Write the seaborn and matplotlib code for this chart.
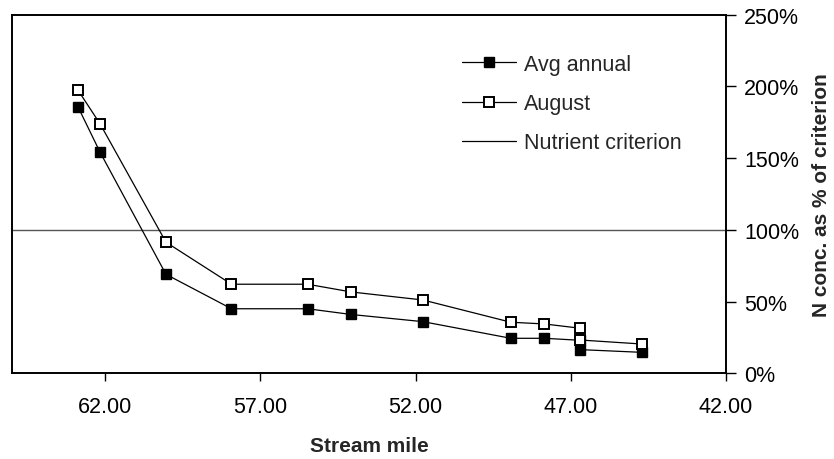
import matplotlib
matplotlib.use("Agg")
import matplotlib.pyplot as plt
from matplotlib.ticker import PercentFormatter, FormatStrFormatter
from matplotlib.lines import Line2D
import seaborn as sns
import pandas as pd

# Stream mile of each sampling site (two sites share mile 46.69)
stream_mile = [62.88, 62.16, 60.04, 57.93, 55.48, 54.07, 51.76, 48.93, 47.85, 46.69, 46.69, 44.70]
# Nitrogen concentration as a fraction of the nutrient criterion
avg_annual = [1.86, 1.54, 0.69, 0.45, 0.45, 0.41, 0.36, 0.244, 0.244, 0.23, 0.165, 0.146]
august = [1.976, 1.738, 0.914, 0.621, 0.621, 0.567, 0.511, 0.356, 0.344, 0.314, 0.232, 0.204]
criterion = 1.0

x_ticks = [62, 57, 52, 47, 42]

sns.set_theme(style="white")
plt.rcParams["font.family"] = ["Liberation Sans", "DejaVu Sans"]

df = pd.DataFrame({"mile": stream_mile, "avg": avg_annual, "aug": august})

fig = plt.figure(figsize=(8.34, 4.6), dpi=100)
ax = fig.add_axes([12 / 834, (460 - 374.3) / 460, 714 / 834, 358.6 / 460])

ax.axhline(criterion, color="#555555", lw=1.0, zorder=1)

sns.lineplot(data=df, x="mile", y="avg", ax=ax, estimator=None, sort=False,
             color="black", lw=0.9, marker="s", markersize=7.5,
             markerfacecolor="black", markeredgecolor="black", markeredgewidth=1.0,
             zorder=2)
sns.lineplot(data=df, x="mile", y="aug", ax=ax, estimator=None, sort=False,
             color="black", lw=0.9, marker="s", markersize=7.5,
             markerfacecolor="white", markeredgecolor="black", markeredgewidth=1.4,
             zorder=3)

ax.set_xlim(65, 42)
ax.set_ylim(0, 2.5)
ax.set_xticks(x_ticks)
ax.xaxis.set_major_formatter(FormatStrFormatter("%.2f"))
ax.set_yticks([0, 0.5, 1.0, 1.5, 2.0, 2.5])
ax.yaxis.set_major_formatter(PercentFormatter(1.0, decimals=0))
ax.yaxis.tick_right()
ax.yaxis.set_label_position("right")

for side in ["left", "right", "top", "bottom"]:
    ax.spines[side].set_visible(True)
    ax.spines[side].set_color("black")
    ax.spines[side].set_linewidth(1.4)

ax.tick_params(axis="x", direction="out", length=6, width=1.0, color="black",
               pad=10, labelsize=15.5, labelcolor="black", bottom=True)
ax.tick_params(axis="y", direction="out", length=7, width=1.0, color="black",
               pad=6, labelsize=15.5, labelcolor="black", right=True, left=False)

ax.set_xlabel("Stream mile", fontsize=15, fontweight="bold", labelpad=14)
ax.set_ylabel("N conc. as % of criterion", fontsize=15, fontweight="bold",
              labelpad=9, rotation=90)

handles = [
    Line2D([], [], color="black", lw=0.9, marker="s", markersize=7.5,
           markerfacecolor="black", markeredgecolor="black"),
    Line2D([], [], color="black", lw=0.9, marker="s", markersize=7.5,
           markerfacecolor="white", markeredgecolor="black", markeredgewidth=1.4),
    Line2D([], [], color="black", lw=0.9),
]
ax.legend(handles, ["Avg annual", "August", "Nutrient criterion"],
          loc="upper left", bbox_to_anchor=(0.603, 0.945), frameon=False,
          fontsize=15.5, handlelength=2.5, handletextpad=0.4, labelspacing=0.85)

fig.savefig("out.png", dpi=100)
